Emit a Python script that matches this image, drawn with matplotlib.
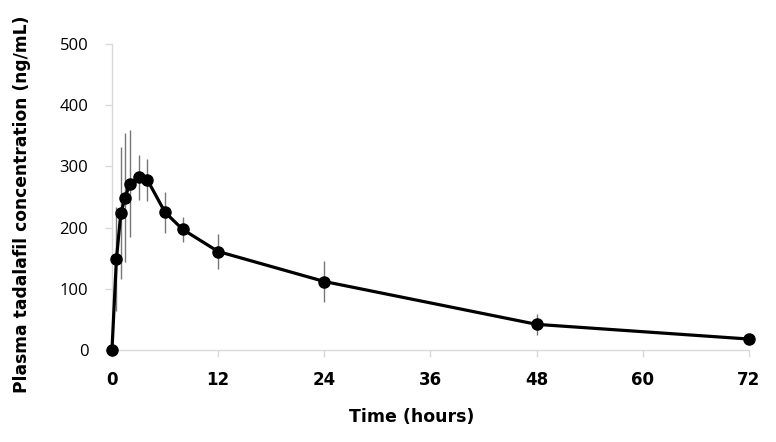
import numpy as np
import matplotlib.pyplot as plt

# time points (hours) and mean plasma concentration (ng/mL) with SD
time_h = [0, 0.5, 1, 1.5, 2, 3, 4, 6, 8, 12, 24, 48, 72]
conc = [0, 148, 224, 249, 272, 282, 278, 225, 197, 161, 112, 42, 18]
conc_sd = [0, 85, 108, 105, 88, 37, 34, 33, 21, 28, 34, 17, 5]

x_ticks = [0, 12, 24, 36, 48, 60, 72]
y_ticks = [0, 100, 200, 300, 400, 500]

fig = plt.figure(figsize=(7.76, 4.42), dpi=100)
ax = fig.add_axes([0.1443, 0.208, 0.8209, 0.6925])

# error bars: thin grey, no caps
ax.errorbar(time_h, conc, yerr=conc_sd, fmt='none', ecolor='#777777',
            elinewidth=1.0, capsize=0, zorder=2)
ax.plot(time_h, conc, color='black', linewidth=2.3, marker='o',
        markersize=8, zorder=3, clip_on=False)

ax.set_xlim(0, 72)
ax.set_ylim(0, 500)
ax.set_xticks(x_ticks)
ax.set_yticks(y_ticks)

for side in ['top', 'right']:
    ax.spines[side].set_visible(False)
for side in ['left', 'bottom']:
    ax.spines[side].set_color('#d9d9d9')
    ax.spines[side].set_linewidth(1.0)
ax.tick_params(axis='both', colors='#d9d9d9', length=5, width=1)

ax.set_xticklabels([str(t) for t in x_ticks], fontsize=12, fontweight='bold',
                   family=['Liberation Sans Narrow', 'DejaVu Sans'], color='black')
ax.set_yticklabels([str(t) for t in y_ticks], fontsize=12,
                   family=['Open Sans', 'DejaVu Sans'], color='black')
ax.tick_params(axis='x', pad=10)
ax.tick_params(axis='y', pad=12)

ax.set_xlabel('Time (hours)', fontsize=12.5, fontweight='bold')
ax.set_ylabel('Plasma tadalafil concentration (ng/mL)', fontsize=12.3,
              fontweight='bold')
ax.xaxis.set_label_coords(0.471, -0.19)
ax.yaxis.set_label_coords(-0.127, 0.475)

fig.savefig('out.png', dpi=100)
